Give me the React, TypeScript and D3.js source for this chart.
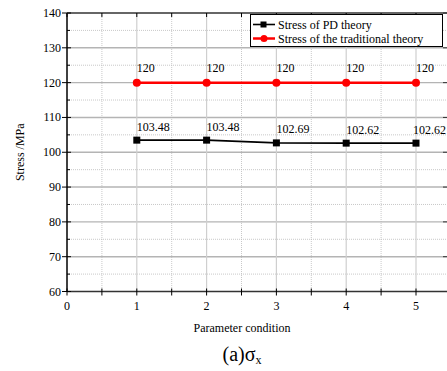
import { useEffect, useRef } from 'react';
import * as d3 from 'd3';

const conditions = [1, 2, 3, 4, 5];
const pdStress = [103.48, 103.48, 102.69, 102.62, 102.62];
const traditionalStress = [120, 120, 120, 120, 120];
const yTicks = [60, 70, 80, 90, 100, 110, 120, 130, 140];
const xTicks = [0, 1, 2, 3, 4, 5];
const seriesNames = ['Stress of PD theory', 'Stress of the traditional theory'];

const FONT = 'Liberation Serif';

type Sel = d3.Selection<any, unknown, null, undefined>;

// the serif face only holds at 12px and at 20px here, so text sticks to those sizes
function addText(parent: Sel, px: number, py: number, size: number, str: string, anchor = 'start', rotate = 0) {
  return parent.append('text')
    .attr('transform', `translate(${px},${py}) rotate(${rotate})`)
    .attr('text-anchor', anchor)
    .attr('font-size', size)
    .style('font-family', FONT)
    .text(str);
}

export default function App() {
  const svgRef = useRef<SVGSVGElement>(null);

  useEffect(() => {
    const svg = d3.select(svgRef.current);
    svg.selectAll('*').remove();

    const width = 447;
    const height = 371;
    const left = 67;
    const top = 13;
    const bottom = 291.5;

    const x = d3.scaleLinear().domain([0, 5.5]).range([left, left + 5.5 * 69.8]);
    const y = d3.scaleLinear().domain([60, 140]).range([bottom, top]);
    const right = x(5.5);

    svg.attr('width', width).attr('height', height);
    svg.append('rect').attr('width', width).attr('height', height).attr('fill', '#fff');

    const g = svg.append('g');

    // minor grid (dotted)
    const minorY = d3.range(65, 140, 10);
    const minorX = d3.range(0.5, 5.5, 1);
    g.selectAll('.minor-h')
      .data(minorY)
      .join('line')
      .attr('x1', left).attr('x2', right)
      .attr('y1', d => y(d)).attr('y2', d => y(d))
      .attr('stroke', '#bbb')
      .attr('stroke-width', 0.8)
      .attr('stroke-dasharray', '1,1');
    g.selectAll('.minor-v')
      .data(minorX)
      .join('line')
      .attr('x1', d => x(d)).attr('x2', d => x(d))
      .attr('y1', top).attr('y2', bottom)
      .attr('stroke', '#bbb')
      .attr('stroke-width', 0.8)
      .attr('stroke-dasharray', '1,1');

    // major grid
    g.selectAll('.major-h')
      .data(yTicks.slice(1, -1))
      .join('line')
      .attr('x1', left).attr('x2', right)
      .attr('y1', d => y(d)).attr('y2', d => y(d))
      .attr('stroke', '#b4b4b4')
      .attr('stroke-width', 1.4);
    g.selectAll('.major-v')
      .data(xTicks.slice(1))
      .join('line')
      .attr('x1', d => x(d)).attr('x2', d => x(d))
      .attr('y1', top).attr('y2', bottom)
      .attr('stroke', '#cfcfcf')
      .attr('stroke-width', 1.2);

    // axes frame
    const axisColor = '#333';
    g.append('line').attr('x1', left).attr('x2', left).attr('y1', top).attr('y2', bottom)
      .attr('stroke', '#000').attr('stroke-width', 1.5);
    g.append('line').attr('x1', left).attr('x2', right).attr('y1', bottom).attr('y2', bottom)
      .attr('stroke', axisColor).attr('stroke-width', 1.5);
    g.append('line').attr('x1', left).attr('x2', right).attr('y1', top).attr('y2', top)
      .attr('stroke', axisColor).attr('stroke-width', 1.5);

    // left ticks
    g.selectAll('.ytick')
      .data(yTicks)
      .join('line')
      .attr('x1', left - 5).attr('x2', left + 4)
      .attr('y1', d => y(d)).attr('y2', d => y(d))
      .attr('stroke', '#000').attr('stroke-width', 1);
    g.selectAll('.ytick-minor')
      .data(minorY)
      .join('line')
      .attr('x1', left).attr('x2', left + 3)
      .attr('y1', d => y(d)).attr('y2', d => y(d))
      .attr('stroke', '#000').attr('stroke-width', 1);
    yTicks.forEach(v => addText(g, left - 6, y(v) + 4, 12, String(v), 'end'));

    // bottom and top ticks
    const allX = [...xTicks, ...minorX];
    g.selectAll('.xtick')
      .data(allX)
      .join('line')
      .attr('x1', d => x(d)).attr('x2', d => x(d))
      .attr('y1', bottom - 3).attr('y2', bottom + 4)
      .attr('stroke', '#000').attr('stroke-width', 1);
    g.selectAll('.xtick-top')
      .data(allX)
      .join('line')
      .attr('x1', d => x(d)).attr('x2', d => x(d))
      .attr('y1', top).attr('y2', top + 4)
      .attr('stroke', '#000').attr('stroke-width', 1);
    g.selectAll('.ytick-right')
      .data(yTicks)
      .join('line')
      .attr('x1', width - 4).attr('x2', width)
      .attr('y1', d => y(d)).attr('y2', d => y(d))
      .attr('stroke', '#333').attr('stroke-width', 1);
    xTicks.forEach(v => addText(g, x(v), bottom + 18, 12, String(v), 'middle'));

    // axis titles
    addText(svg as Sel, 24, (top + bottom) / 2, 12, 'Stress /MPa', 'middle', -90);
    addText(svg as Sel, 242, 332, 12, 'Parameter condition', 'middle');
    const cap = addText(svg as Sel, 242, 361, 20, '', 'middle');
    cap.append('tspan').text('(a)σ');
    cap.append('tspan').attr('font-size', 12).attr('dy', 3).text('x');

    // series
    const line = d3.line<number>()
      .x((_, i) => x(conditions[i]))
      .y(d => y(d));

    g.append('path')
      .datum(traditionalStress)
      .attr('fill', 'none')
      .attr('stroke', '#ff0000')
      .attr('stroke-width', 2.5)
      .attr('d', line);
    g.selectAll('.red-dot')
      .data(traditionalStress)
      .join('circle')
      .attr('cx', (_, i) => x(conditions[i]))
      .attr('cy', d => y(d))
      .attr('r', 4)
      .attr('fill', '#ff0000');

    g.append('path')
      .datum(pdStress)
      .attr('fill', 'none')
      .attr('stroke', '#000')
      .attr('stroke-width', 1.6)
      .attr('d', line);
    g.selectAll('.black-sq')
      .data(pdStress)
      .join('rect')
      .attr('x', (_, i) => x(conditions[i]) - 3.5)
      .attr('y', d => y(d) - 3.5)
      .attr('width', 7)
      .attr('height', 7)
      .attr('fill', '#000');

    // value labels (kept inside the page on the right)
    const valueLabel = (px: number, py: number, str: string) => {
      const t = addText(g, px, py, 12, str);
      const w = (t.node() as SVGTextElement).getComputedTextLength();
      if (px + w > width - 1) t.attr('transform', `translate(${width - 1 - w},${py})`);
    };
    traditionalStress.forEach((v, i) => valueLabel(x(conditions[i]), y(v) - 10.5, String(v)));
    pdStress.forEach((v, i) => valueLabel(x(conditions[i]), y(v) - 9.5, v.toFixed(2)));

    // legend
    const lg = svg.append('g');
    lg.append('rect')
      .attr('x', 250.5).attr('y', 14.5)
      .attr('width', 192).attr('height', 32)
      .attr('fill', '#fff')
      .attr('stroke', '#000')
      .attr('stroke-width', 1);
    const colors = ['#000', '#ff0000'];
    seriesNames.forEach((name, i) => {
      const ly = 24.5 + i * 14;
      lg.append('line')
        .attr('x1', 253).attr('x2', 275)
        .attr('y1', ly).attr('y2', ly)
        .attr('stroke', colors[i])
        .attr('stroke-width', i === 0 ? 1.6 : 2.5);
      if (i === 0) {
        lg.append('rect').attr('x', 260.5).attr('y', ly - 3).attr('width', 6).attr('height', 6).attr('fill', '#000');
      } else {
        lg.append('circle').attr('cx', 264).attr('cy', ly).attr('r', 3.5).attr('fill', '#ff0000');
      }
      addText(lg as Sel, 278, ly + 4, 12, name);
    });
  }, []);

  return (
    <div style={{ position: 'absolute', left: 0, top: 0 }}>
      <svg ref={svgRef} style={{ display: 'block' }} />
    </div>
  );
}
